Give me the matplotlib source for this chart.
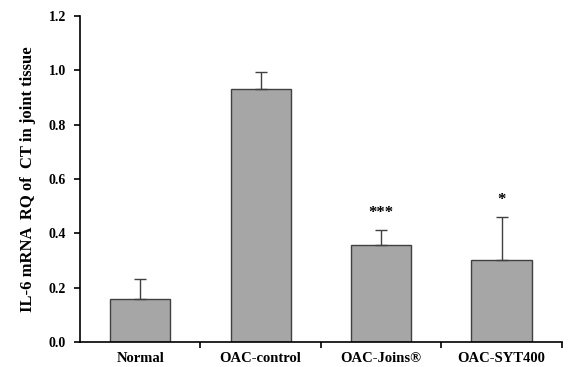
import numpy as np
import matplotlib.pyplot as plt
from matplotlib.ticker import FixedLocator

groups = ["Normal", "OAC-control", "OAC-Joins®", "OAC-SYT400"]
rq_values = [0.158, 0.932, 0.357, 0.302]
rq_errors = [0.073, 0.062, 0.055, 0.160]
signif = ["", "", "***", "*"]

plt.rcParams['font.family'] = ['Liberation Serif', 'DejaVu Serif']

fig = plt.figure(figsize=(5.84, 3.67), dpi=100)
ax = fig.add_axes([0.137, 0.068, 0.825, 0.888])

x = np.arange(len(groups))
ax.bar(x, rq_values, width=0.5, color="#a6a6a6", edgecolor="#404040", linewidth=1.0, zorder=2)
ax.errorbar(x, rq_values, yerr=[np.zeros(len(x)), rq_errors], fmt="none",
            ecolor="#404040", elinewidth=1.0, capsize=4, capthick=1.0, zorder=3)

for xi, v, e, s in zip(x, rq_values, rq_errors, signif):
    if s:
        ax.text(xi, v + e + 0.062, s, ha="center", va="center", fontsize=12, fontweight="bold")

ax.set_xlim(-0.5, 3.5)
ax.set_ylim(0, 1.2)
ax.set_yticks(np.arange(0, 1.21, 0.2))
ax.set_yticklabels([f"{v:.1f}" for v in np.arange(0, 1.21, 0.2)], fontsize=10, fontweight="bold")
ax.set_xticks(x)
ax.set_xticklabels(groups, fontsize=10.5, fontweight="bold")
ax.tick_params(axis="x", length=0, pad=7)
ax.xaxis.set_minor_locator(FixedLocator([0.5, 1.5, 2.5, 3.5]))
ax.tick_params(axis="x", which="minor", length=4, width=1.2, direction="out")
ax.tick_params(axis="y", length=4, width=1.2, direction="out", pad=6)

ax.spines["top"].set_visible(False)
ax.spines["right"].set_visible(False)
ax.spines["left"].set_linewidth(1.2)
ax.spines["bottom"].set_linewidth(1.2)

ax.set_ylabel("IL-6 mRNA  RQ of  CT in joint tissue", fontsize=12, fontweight="bold", labelpad=9)

fig.savefig("out.png", dpi=100)
